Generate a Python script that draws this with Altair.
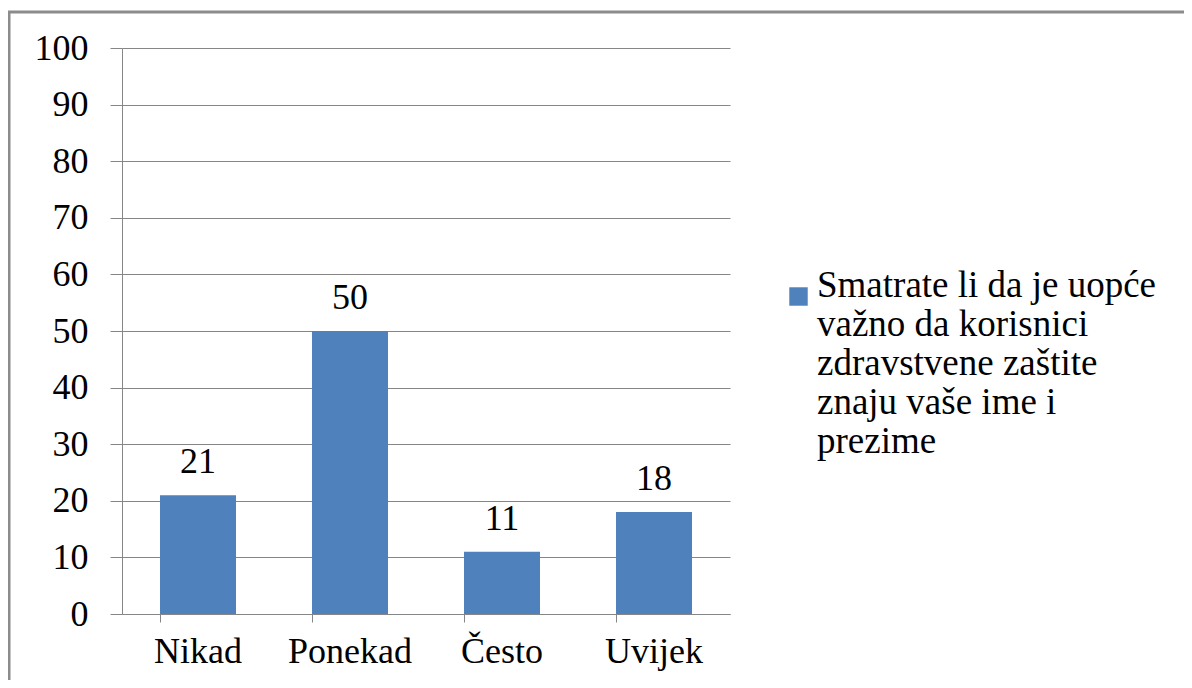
import altair as alt
import pandas as pd

categories = ["Nikad", "Ponekad", "Često", "Uvijek"]
values = [21, 50, 11, 18]
series_name = "Smatrate li da je uopće|važno da korisnici|zdravstvene zaštite|znaju vaše ime i|prezime"
y_ticks = [0, 10, 20, 30, 40, 50, 60, 70, 80, 90, 100]

df = pd.DataFrame({"cat": categories, "val": values, "series": [series_name] * len(categories)})

FONT = "Liberation Serif, Times New Roman, DejaVu Serif, serif"
BAR = "#4F81BD"
GRID = "#868686"

base = alt.Chart(df)

bars = base.mark_bar(color=BAR).encode(
    x=alt.X("cat:N", sort=categories, title=None,
            scale=alt.Scale(paddingInner=0.5, paddingOuter=0.25),
            axis=alt.Axis(labelAngle=0, labelFont=FONT, labelFontSize=36, labelColor="#000000",
                          labelPadding=12, tickSize=8, tickColor=GRID, domainColor=GRID,
                          bandPosition=0, ticks=True, grid=False)),
    y=alt.Y("val:Q", title=None,
            scale=alt.Scale(domain=[0, 100], nice=False),
            axis=alt.Axis(values=y_ticks, labelFont=FONT, labelFontSize=36, labelColor="#000000",
                          labelPadding=22, tickSize=12, tickColor=GRID, domainColor=GRID,
                          gridColor=GRID, gridWidth=1, grid=True)),
    color=alt.Color("series:N", scale=alt.Scale(range=[BAR]), title=None,
                    legend=alt.Legend(orient="none", legendX=658, legendY=230,
                                      symbolType="square", symbolSize=340, symbolStrokeWidth=0,
                                      symbolFillColor=BAR, labelFont=FONT, labelFontSize=37,
                                      labelColor="#000000", labelOffset=0, labelLimit=500,
                                      labelBaseline="alphabetic", padding=0,
                                      labelExpr="split(datum.label, '|')")),
)

labels = base.mark_text(font=FONT, fontSize=36, color="#000000", dy=-22, baseline="alphabetic").encode(
    x=alt.X("cat:N", sort=categories),
    y="val:Q",
    text="val:Q",
)

frame = alt.Chart(alt.Data(values=[{}])).mark_rect(
    fill=None, stroke="#8C8C8C", strokeWidth=3, clip=False
).encode(
    x=alt.value(-113), x2=alt.value(1200),
    y=alt.value(-36), y2=alt.value(800),
)

chart = alt.layer(bars, labels, frame).properties(
    width=608, height=566,
    autosize=alt.AutoSizeParams(type="none"),
    padding={"left": 114, "top": 40, "right": 454, "bottom": 66},
).configure_view(stroke=None).configure_axis(domainWidth=1, tickWidth=1)

chart.save("out.html", embed_options={"renderer": "svg", "actions": False})
